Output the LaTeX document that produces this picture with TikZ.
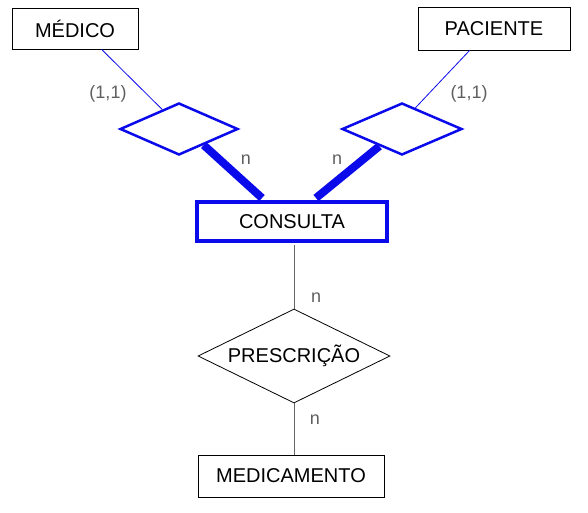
\documentclass[tikz,border=0pt]{standalone}
\usepackage{fontspec}
\setmainfont{Liberation Sans}
\usetikzlibrary{shapes.geometric, calc}
\definecolor{erblue}{RGB}{10,10,235}
\definecolor{labgray}{RGB}{95,95,95}
\tikzset{
  ent/.style={draw=black, line width=0.8pt, inner sep=0pt, font=\fontsize{20}{22}\selectfont},
  wkent/.style={ent, draw=erblue, line width=4pt},
  rel/.style={diamond, aspect=2.04, draw=black, line width=0.8pt, inner sep=0pt, font=\fontsize{20}{22}\selectfont},
  wkrel/.style={rel, draw=erblue, line width=2.5pt},
  thin/.style={draw=erblue, line width=0.8pt},
  idf/.style={draw=erblue, line width=8pt},
  lnk/.style={draw=black!60, line width=0.8pt},
  lab/.style={font=\fontsize{18}{20}\selectfont, text=labgray, inner sep=1pt}
}

\begin{document}
\begin{tikzpicture}[x=1pt, y=-1pt]
\useasboundingbox (0,0) rectangle (588,512);
% entities
\node[ent, minimum width=126pt, minimum height=41pt] (med) at (75,28.5) {MÉDICO};
\node[ent, minimum width=152pt, minimum height=43pt] (pac) at (494,28.5) {PACIENTE};
\node[wkent, minimum width=190pt, minimum height=39pt] (cons) at (292,221.5) {CONSULTA};
\node[ent, minimum width=186pt, minimum height=42pt] (remed) at (291,476) {MEDICAMENTO};
% relationships
\node[wkrel, minimum width=118pt, minimum height=52pt] (rmed) at (179,129) {};
\node[wkrel, minimum width=120pt, minimum height=52pt] (rpac) at (402,129) {};
\node[rel, minimum width=192pt, minimum height=94pt] (presc) at (294,356) {PRESCRIÇÃO};
% identifying links
\draw[thin] ($(med.south west)+(90,0)$) -- ($(rmed.west)!0.72!(rmed.north)$);
\draw[thin] ($(pac.south west)+(52,0)$) -- ($(rpac.north)!0.22!(rpac.east)$);
\draw[idf] ($(rmed.east)!0.59!(rmed.south)$) -- ($(cons.north west)+(67,-2)$);
\draw[idf] ($(rpac.west)!0.63!(rpac.south)$) -- ($(cons.north west)+(121,-2)$);
% prescription links
\draw[lnk] ($(presc.north |- cons.south)+(0,2)$) -- (presc.north);
\draw[lnk] (presc.south) -- (presc.south |- remed.north);
% cardinalities
\node[lab] (cmed) at (108,94) {(1,1)};
\node[lab] (cpac) at (469,94) {(1,1)};
\node[lab] (nmed) at (246,160) {n};
\node[lab] (npac) at (337,160) {n};
\node[lab] (ncons) at (316,298) {n};
\node[lab] (nremed) at (315,420) {n};
\end{tikzpicture}
\end{document}
